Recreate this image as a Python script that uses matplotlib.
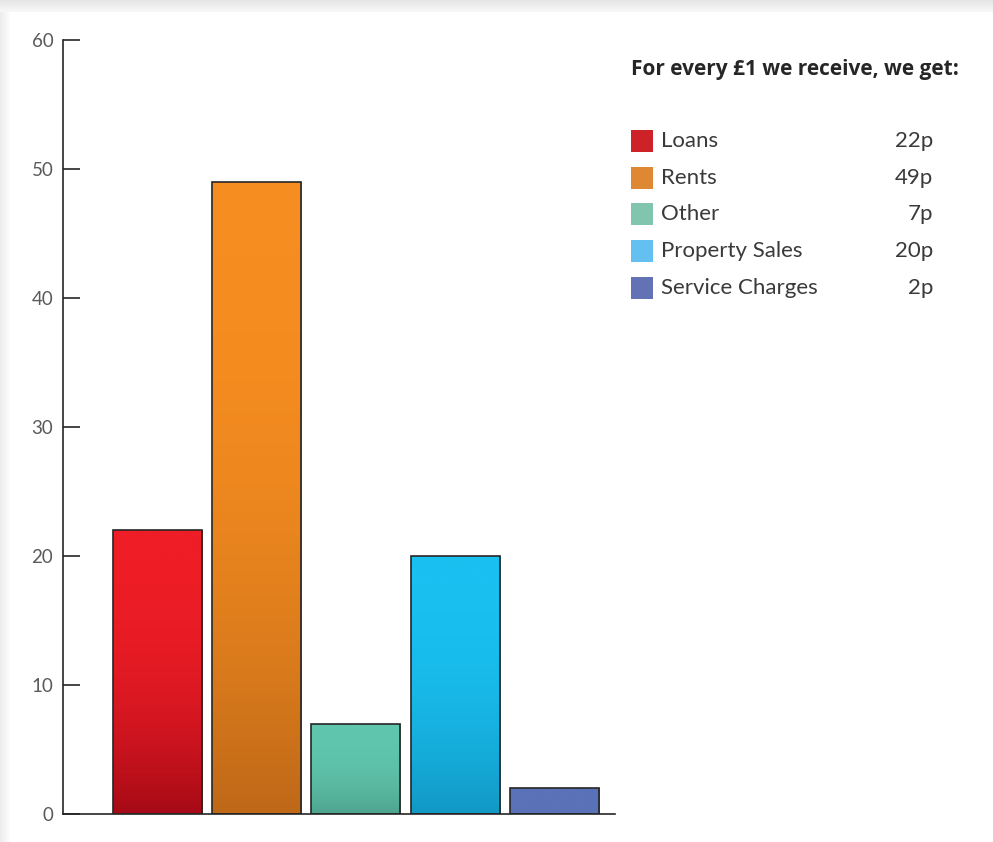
import numpy as np
import matplotlib
matplotlib.use("Agg")
import matplotlib.pyplot as plt
from matplotlib.colors import LinearSegmentedColormap, to_rgb

categories = ["Loans", "Rents", "Other", "Property Sales", "Service Charges"]
values = [22, 49, 7, 20, 2]
value_labels = ["22p", "49p", "7p", "20p", "2p"]
yticks = [0, 10, 20, 30, 40, 50, 60]
title = "For every £1 we receive, we get:"

bar_top = ["#EE1D26", "#F68D20", "#60C6AE", "#19C0F0", "#5A72B8"]
bar_bottom = ["#A50A16", "#BE6818", "#4EA48E", "#1298C4", "#5A72B8"]
legend_colors = ["#CE2229", "#DE8833", "#82C5AE", "#63C0F0", "#6272B5"]

plt.rcParams['font.family'] = ['Lato', 'DejaVu Sans']

W, H = 993, 842
fig = plt.figure(figsize=(W / 100, H / 100), dpi=100)
fig.patch.set_facecolor("white")

# background shadow frame
bg = fig.add_axes([0, 0, 1, 1], zorder=-10)
bg.axis("off")
top_grad = np.linspace(0.90, 0.97, 12)[:, None] * np.ones((1, 2))
bg.imshow(np.dstack([top_grad] * 3), extent=(0, W, 12, 0), aspect="auto")
left_grad = np.linspace(0.93, 0.99, 10)[None, :] * np.ones((2, 1))
bg.imshow(np.dstack([left_grad] * 3), extent=(0, 10, H, 12), aspect="auto")
bg.set_xlim(0, W); bg.set_ylim(H, 0)

ax = fig.add_axes([63 / W, 28 / H, (615 - 63) / W, (814 - 40) / H])
x = np.arange(len(categories))
bars = ax.bar(x, values, width=0.897, color="none", edgecolor="#262626",
              linewidth=1.2, zorder=3)
f = np.linspace(0, 1, 256)
grad = (1 - (1 - f) ** 2.5)[:, None]
for b, ct, cb in zip(bars, bar_top, bar_bottom):
    cmap = LinearSegmentedColormap.from_list("g", [to_rgb(cb), to_rgb(ct)])
    x0, w, h = b.get_x(), b.get_width(), b.get_height()
    im = ax.imshow(grad, cmap=cmap, vmin=0, vmax=1, extent=(x0, x0 + w, 0, h),
                   origin="lower", aspect="auto", zorder=2)
    im.set_clip_path(b)

ax.set_xlim(-0.952, 4.61)
ax.set_ylim(0, 60)
ax.set_yticks(yticks)
ax.set_yticklabels([str(t) for t in yticks])
ax.set_xticks([])
ax.tick_params(axis="y", direction="in", length=12, width=1.2, color="#262626",
               labelsize=13.5, labelcolor="#5a5a5a", pad=7)
for s in ["top", "right"]:
    ax.spines[s].set_visible(False)
for s in ["left", "bottom"]:
    ax.spines[s].set_color("#262626")
    ax.spines[s].set_linewidth(1.2)
ax.set_facecolor("none")

# legend panel
fig.text(631 / W, 1 - 69 / H, title, fontsize=15, fontweight="bold",
         color="#262626", ha="left", va="center", family=['Open Sans', 'DejaVu Sans'])
row_y = [141, 178, 214, 251, 288]
for ry, name, val, col in zip(row_y, categories, value_labels, legend_colors):
    fig.patches.append(plt.Rectangle((631 / W, 1 - (ry + 11) / H), 22 / W, 22 / H,
                                     transform=fig.transFigure, facecolor=col,
                                     edgecolor="none"))
    fig.text(661 / W, 1 - ry / H, name, fontsize=16, fontweight="normal",
             color="#3a3a3a", ha="left", va="center")
    fig.text(933 / W, 1 - ry / H, val, fontsize=16, fontweight="normal",
             color="#3a3a3a", ha="right", va="center")

fig.savefig("out.png", dpi=100, facecolor="white")
